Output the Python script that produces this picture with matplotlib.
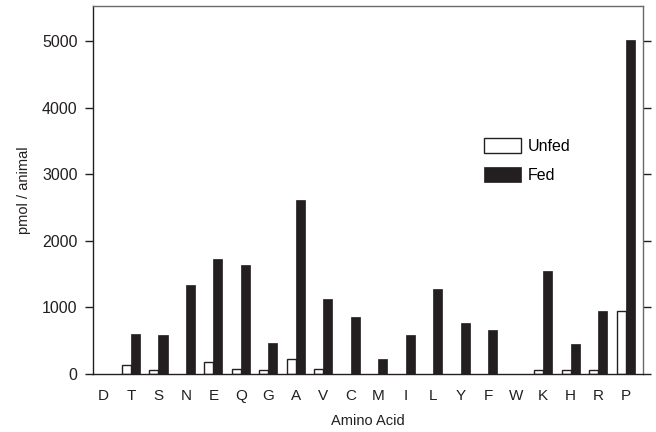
import matplotlib
matplotlib.use("Agg")
import matplotlib.pyplot as plt
from matplotlib.patches import Patch
import numpy as np

plt.rcParams['font.family'] = ['Liberation Sans', 'DejaVu Sans']

amino_acids = ["D", "T", "S", "N", "E", "Q", "G", "A", "V", "C",
               "M", "I", "L", "Y", "F", "W", "K", "H", "R", "P"]
unfed = [0, 140, 60, 0, 180, 80, 65, 220, 70, 0,
         0, 0, 0, 0, 0, 0, 65, 65, 65, 940]
fed = [0, 600, 590, 1340, 1720, 1640, 460, 2610, 1120, 850,
       230, 590, 1270, 770, 660, 0, 1550, 450, 950, 5020]
y_ticks = [0, 1000, 2000, 3000, 4000, 5000]

ink = "#231f20"

fig = plt.figure(figsize=(6.56, 4.32), dpi=100)
ax = fig.add_axes([0.1418, 0.1343, 0.838, 0.8518])

x = np.arange(len(amino_acids))
w = 0.33
unfed_bars = ax.bar(x - w / 2, unfed, width=w, color="white", edgecolor=ink,
                    linewidth=1.0, zorder=2)
fed_bars = ax.bar(x + w / 2, fed, width=w, color=ink, edgecolor=ink,
                  linewidth=0.5, zorder=2)
# zero-valued bars leave no outline on the baseline
for bars, vals in ((unfed_bars, unfed), (fed_bars, fed)):
    for b, v in zip(bars, vals):
        if v == 0:
            b.set_linewidth(0)

ax.set_xlim(-0.38, 19.62)
ax.set_ylim(0, 5525)
ax.set_xticks(x)
ax.set_xticklabels(amino_acids)
ax.set_yticks(y_ticks)
ax.set_yticklabels([str(v) for v in y_ticks])

ax.tick_params(axis="x", length=0, pad=11, labelsize=11, colors=ink)
ax.tick_params(axis="y", direction="out", length=6, width=1.0, pad=5,
               labelsize=11.5, colors=ink, right=True)

for side in ("left", "bottom"):
    ax.spines[side].set_color(ink)
    ax.spines[side].set_linewidth(1.0)
for side in ("top", "right"):
    ax.spines[side].set_color("#6a6a6a")
    ax.spines[side].set_linewidth(1.0)

ax.set_xlabel("Amino Acid", fontsize=10.5, labelpad=8, color=ink)
ax.set_ylabel("pmol / animal", fontsize=10.5, labelpad=8, color=ink)

handles = [Patch(facecolor="white", edgecolor=ink, linewidth=1.0, label="Unfed"),
           Patch(facecolor=ink, edgecolor=ink, linewidth=0.5, label="Fed")]
ax.legend(handles=handles, loc="upper left", bbox_to_anchor=(0.711, 0.642),
          frameon=False, fontsize=11.5, handlelength=2.3, handleheight=1.1,
          handletextpad=0.45, labelspacing=0.8, borderpad=0, borderaxespad=0)

fig.savefig("out.png", dpi=100)
